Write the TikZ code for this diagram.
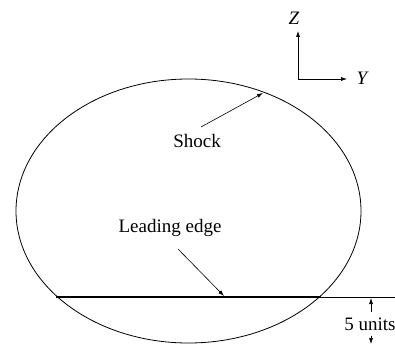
\documentclass[tikz,border=0pt]{standalone}
\usepackage{fontspec}
\setmainfont{Liberation Serif}
\usetikzlibrary{arrows.meta}
\begin{document}
\begin{tikzpicture}[x=1pt,y=-1pt,
  lbl/.style={font=\fontsize{19}{22}\selectfont, inner sep=0pt},
  arr/.style={line width=0.6pt, -{Latex[length=6pt,width=4pt]}},
  thinln/.style={line width=0.6pt}]
\useasboundingbox (0,0) rectangle (395,344);
\clip (0,0) rectangle (395,344);
% shock ellipse
\draw[line width=0.8pt] (188.5,211) ellipse [x radius=172.5, y radius=132];
% leading edge
\coordinate (leL) at (56,297);
\coordinate (leR) at (321,297);
\coordinate (leEnd) at (395,297);
\draw[line width=2pt] (leL) -- (leR);
\draw[thinln] (leR) -- (leEnd);
% labels
\node[lbl] (shock) at (197,141) {Shock};
\coordinate (shockS) at (201,127);
\coordinate (shockT) at (263,93);
\draw[arr] (shockS) -- (shockT);
\node[lbl] (lead) at (170,228) {Leading edge};
\coordinate (leadS) at (178,249);
\coordinate (leadT) at (224,296);
\draw[arr] (leadS) -- (leadT);
% axes
\coordinate (O) at (298,79);
\coordinate (Ztip) at (298,31);
\coordinate (Ytip) at (347,79);
\draw[arr] (O) -- (Ztip);
\draw[arr] (O) -- (Ytip);
\node[lbl, font=\fontsize{19}{22}\selectfont\itshape] (Z) at (294,18) {Z};
\node[lbl, font=\fontsize{19}{22}\selectfont\itshape] (Y) at (362,78) {Y};
% 5 units
\node[lbl] (units) at (370,324) {5 units};
\coordinate (uS) at (371,312);
\coordinate (uT) at (371,298);
\coordinate (dS) at (371,336);
\coordinate (dT) at (371,344);
\draw[arr] (uS) -- (uT);
\draw[arr] (dS) -- (dT);
\end{tikzpicture}
\end{document}
